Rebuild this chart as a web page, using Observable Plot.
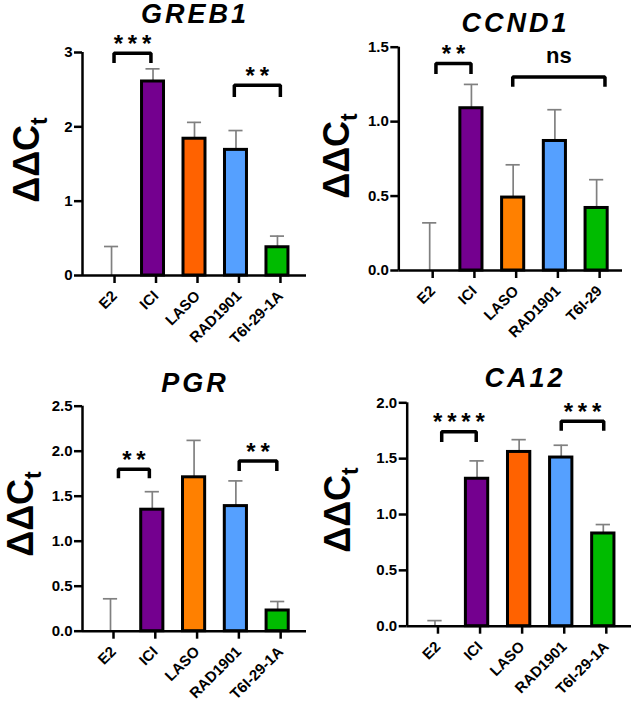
<!DOCTYPE html>
<html>
<head>
<meta charset="utf-8">
<script src="https://cdn.jsdelivr.net/npm/d3@7"></script>
<script src="https://cdn.jsdelivr.net/npm/@observablehq/plot@0.6"></script>
<style>
  html, body { margin: 0; padding: 0; background: #fff; }
  #wrap { position: relative; width: 632px; height: 709px; background: #fff; }
  .panel { position: absolute; }
  .panel svg { display: block; overflow: visible; }
</style>
</head>
<body>
<div id="wrap"></div>
<script>
// ---- categories ----
const cats = ["E2", "ICI", "LASO", "RAD1901", "T6I-29-1A"];
const catsCCND1 = ["E2", "ICI", "LASO", "RAD1901", "T6I-29"];

// ---- bar colours ----
const colorsRed = ["#FFFFFF", "#74008F", "#FF6200", "#55A0FF", "#00BB00"];
const colorsOrange = ["#FFFFFF", "#74008F", "#FF8000", "#55A0FF", "#00BB00"];

// ---- series values (mean, error) ----
const greb1Mean = [0, 2.61, 1.84, 1.69, 0.38];
const greb1Err  = [0.39, 0.17, 0.22, 0.26, 0.15];
const ccnd1Mean = [0, 1.09, 0.49, 0.87, 0.42];
const ccnd1Err  = [0.32, 0.16, 0.22, 0.21, 0.19];
const pgrMean   = [0, 1.35, 1.71, 1.39, 0.23];
const pgrErr    = [0.36, 0.20, 0.41, 0.28, 0.10];
const ca12Mean  = [0, 1.32, 1.56, 1.51, 0.83];
const ca12Err   = [0.05, 0.16, 0.11, 0.11, 0.08];

// ---- tick values ----
const greb1Ticks = [0, 1, 2, 3];
const ccnd1Ticks = [0, 0.5, 1.0, 1.5];
const pgrTicks   = [0, 0.5, 1.0, 1.5, 2.0, 2.5];
const ca12Ticks  = [0, 0.5, 1.0, 1.5, 2.0];

// ---- significance brackets (x in category index units, y in data units) ----
const T = "\u2009";
const greb1Brackets = [
  {x1: 0.06, x2: 0.95, y: 2.99, leg: 2.86, label: ["*", "*", "*"].join(T)},
  {x1: 2.96, x2: 4.07, y: 2.56, leg: 2.40, label: ["*", "*"].join(T)}
];
const ccnd1Brackets = [
  {x1: 0.15, x2: 0.99, y: 1.39, leg: 1.32, label: ["*", "*"].join(T)},
  {x1: 1.99, x2: 4.20, y: 1.30, leg: 1.235, label: "ns"}
];
const pgrBrackets = [
  {x1: 0.19, x2: 0.93, y: 1.80, leg: 1.70, label: ["*", "*"].join(T)},
  {x1: 3.08, x2: 3.98, y: 1.89, leg: 1.78, label: ["*", "*"].join(T)}
];
const ca12Brackets = [
  {x1: 0.16, x2: 0.98, y: 1.74, leg: 1.65, label: ["*", "*", "*", "*"].join(T)},
  {x1: 3.00, x2: 4.01, y: 1.835, leg: 1.75, label: ["*", "*", "*"].join(T)}
];

const FONT = "'Liberation Sans', Arial, Helvetica, sans-serif";

function panel(cfg) {
  const data = cfg.cats.map((c, i) => ({i, cat: c, mean: cfg.mean[i], err: cfg.err[i], color: cfg.colors[i]}));
  const pts = cfg.brackets.flatMap((b, k) => [
    {k, x: b.x1, y: b.leg}, {k, x: b.x1, y: b.y}, {k, x: b.x2, y: b.y}, {k, x: b.x2, y: b.leg}
  ]);
  const stars = cfg.brackets.filter(b => b.label !== "ns");
  const ns = cfg.brackets.filter(b => b.label === "ns");
  const svg = Plot.plot({
    width: 316,
    height: cfg.height,
    marginLeft: cfg.m[0], marginRight: cfg.m[1], marginTop: cfg.m[2], marginBottom: cfg.m[3],
    style: {fontFamily: FONT, background: "white", color: "black", overflow: "visible"},
    x: {type: "linear", domain: cfg.xDomain, axis: null},
    y: {domain: [0, cfg.yMax], axis: null},
    color: {type: "identity"},
    marks: [
      Plot.ruleX(data, {x: "i", y1: "mean", y2: d => d.mean + d.err, stroke: "#808080", strokeWidth: 1.7}),
      Plot.ruleY(data, {y: d => d.mean + d.err, x1: d => d.i - 0.17, x2: d => d.i + 0.17, stroke: "#808080", strokeWidth: 1.7}),
      Plot.rectY(data.filter(d => d.mean > 0), {
        x1: d => d.i - 0.265, x2: d => d.i + 0.265, y1: 0, y2: "mean",
        fill: "color", stroke: "black", strokeWidth: 3
      }),
      Plot.axisY({ticks: cfg.yTicks, tickFormat: cfg.fmt, tickSize: 8, tickPadding: 2,
        fontSize: 15, fontWeight: "bold", strokeWidth: 2.5, label: null}),
      Plot.axisX({ticks: [0, 1, 2, 3, 4], tickFormat: i => cfg.cats[i], tickRotate: -45,
        tickSize: 8, tickPadding: 10, dx: 3, fontSize: 15, fontWeight: "bold", strokeWidth: 2.5, label: null}),
      Plot.ruleX([cfg.xDomain[0]], {stroke: "black", strokeWidth: 2.5}),
      Plot.ruleY([0], {stroke: "black", strokeWidth: 2.5}),
      Plot.line(pts, {x: "x", y: "y", z: "k", stroke: "black", strokeWidth: 3.5, strokeLinejoin: "miter", strokeLinecap: "butt"}),
      Plot.text(stars, {x: d => (d.x1 + d.x2) / 2, y: "y", text: "label", dy: -1.5, lineAnchor: "bottom",
        fontSize: 24, fontWeight: "bold", fill: "black"}),
      Plot.text(ns, {x: d => (d.x1 + d.x2) / 2, y: "y", text: "label", dy: -14, lineAnchor: "bottom",
        fontSize: 22, fontWeight: "bold", fill: "black"})
    ]
  });
  const s = d3.select(svg);
  const ls = 3;
  s.append("text")
    .attr("x", cfg.title[1] + ls / 2).attr("y", cfg.title[2])
    .attr("text-anchor", "middle")
    .attr("font-family", FONT).attr("font-size", 27).attr("font-weight", "bold").attr("font-style", "italic")
    .attr("letter-spacing", ls)
    .attr("fill", "black")
    .text(cfg.title[0]);
  const lab = s.append("text")
    .attr("transform", `translate(${cfg.ylab[0]},${cfg.ylab[1]}) rotate(-90)`)
    .attr("text-anchor", "middle")
    .attr("font-family", FONT).attr("font-size", 36).attr("font-weight", "bold")
    .attr("fill", "black");
  lab.append("tspan").text("ΔΔC");
  lab.append("tspan").attr("font-size", 23).attr("dy", 8).text("t");

  const div = document.createElement("div");
  div.className = "panel";
  div.style.left = cfg.pos[0] + "px";
  div.style.top = cfg.pos[1] + "px";
  div.appendChild(svg);
  document.getElementById("wrap").appendChild(div);
}

const f1 = d3.format(".1f");

panel({cats, mean: greb1Mean, err: greb1Err, colors: colorsRed, yMax: 3, yTicks: greb1Ticks, fmt: d3.format("d"),
  xDomain: [-0.7, 4.7], m: [82, 10, 52, 79], height: 354, pos: [0, 0], brackets: greb1Brackets,
  title: ["GREB1", 193.5, 23], ylab: [39, 160]});
panel({cats: catsCCND1, mean: ccnd1Mean, err: ccnd1Err, colors: colorsOrange, yMax: 1.5, yTicks: ccnd1Ticks, fmt: f1,
  xDomain: [-0.74, 4.62], m: [82.3, 10, 46.7, 84], height: 354, pos: [316, 0], brackets: ccnd1Brackets,
  title: ["CCND1", 198, 32], ylab: [32.5, 156]});
panel({cats, mean: pgrMean, err: pgrErr, colors: colorsOrange, yMax: 2.5, yTicks: pgrTicks, fmt: f1,
  xDomain: [-0.67, 4.69], m: [82, 10, 51.7, 78.3], height: 355, pos: [0, 354], brackets: pgrBrackets,
  title: ["PGR", 193.5, 37.5], ylab: [32.5, 160]});
panel({cats, mean: ca12Mean, err: ca12Err, colors: colorsRed, yMax: 2, yTicks: ca12Ticks, fmt: f1,
  xDomain: [-0.66, 4.67], m: [90.7, 1, 48.3, 83.3], height: 355, pos: [316, 354], brackets: ca12Brackets,
  title: ["CA12", 207.5, 32.5], ylab: [33.5, 156]});
</script>
</body>
</html>
